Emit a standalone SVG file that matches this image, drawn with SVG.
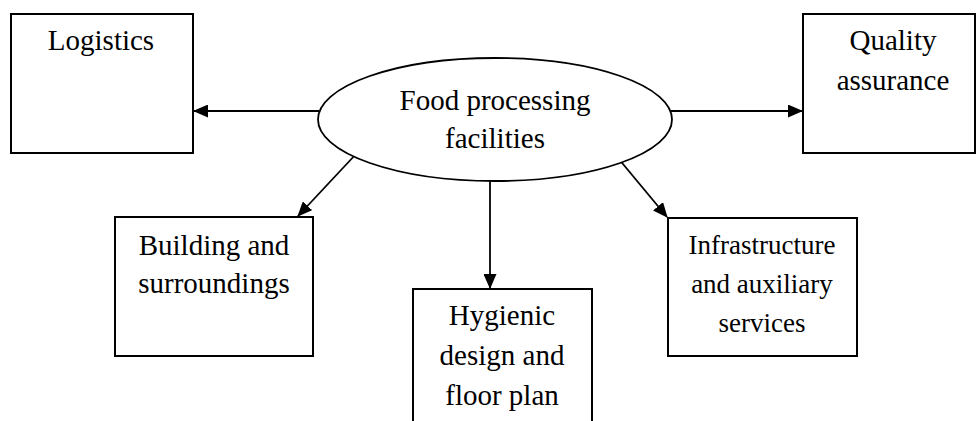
<svg xmlns="http://www.w3.org/2000/svg" width="976" height="421" viewBox="0 0 976 421">
<style>
.box{fill:#fff;stroke:#000;stroke-width:2}
.ell{fill:#fff;stroke:#000;stroke-width:1.8}
.t{font-family:"Liberation Serif","Times New Roman",serif;font-size:29px;fill:#000;text-anchor:middle}
.s{font-size:27px}
.c{stroke:#000;stroke-width:1.8;fill:none;marker-end:url(#ah)}
</style>
<defs>
<marker id="ah" markerWidth="15" markerHeight="13" refX="14" refY="6.5" orient="auto" markerUnits="userSpaceOnUse">
<path d="M0,0 L15,6.5 L0,13 Z" fill="#000"/>
</marker>
</defs>
<rect width="976" height="421" fill="#fff"/>
<g id="connectors">
<line class="c" x1="319" y1="111" x2="194" y2="111"/>
<line class="c" x1="671" y1="111" x2="802" y2="111"/>
<line class="c" x1="357" y1="153" x2="298" y2="216"/>
<line class="c" x1="490" y1="181" x2="490" y2="288"/>
<line class="c" x1="613" y1="152" x2="667" y2="217"/>
</g>
<g id="center">
<ellipse class="ell" cx="495" cy="119.5" rx="177" ry="61.5"/>
<text class="t" x="495" y="110">Food processing</text>
<text class="t" x="495" y="148">facilities</text>
</g>
<g id="logistics">
<rect class="box" x="11" y="14" width="182" height="139"/>
<text class="t" x="101" y="50">Logistics</text>
</g>
<g id="quality">
<rect class="box" x="803" y="14" width="172" height="139"/>
<text class="t" x="893" y="50">Quality</text>
<text class="t" x="893" y="90">assurance</text>
</g>
<g id="building">
<rect class="box" x="115" y="217" width="198" height="139"/>
<text class="t" x="214" y="255">Building and</text>
<text class="t" x="214" y="293">surroundings</text>
</g>
<g id="hygienic">
<rect class="box" x="413" y="289" width="179" height="140"/>
<text class="t" x="502" y="325">Hygienic</text>
<text class="t" x="502" y="365">design and</text>
<text class="t" x="502" y="405">floor plan</text>
</g>
<g id="infrastructure">
<rect class="box" x="668" y="218" width="189" height="138"/>
<text class="t s" x="762" y="254">Infrastructure</text>
<text class="t s" x="762" y="293">and auxiliary</text>
<text class="t s" x="762" y="332">services</text>
</g>
</svg>
